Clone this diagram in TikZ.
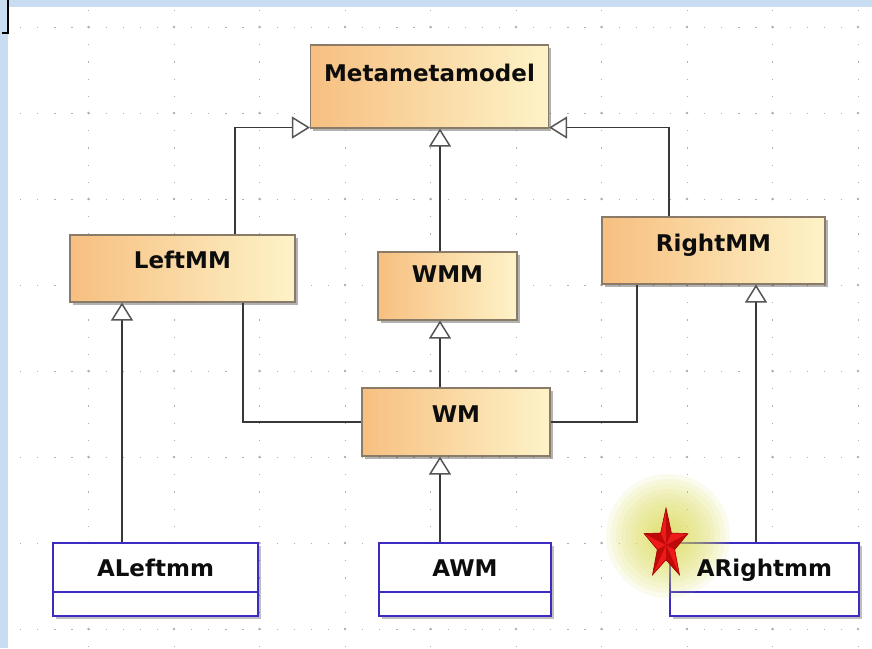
\documentclass[tikz,border=0pt]{standalone}
\usepackage{fontspec}
\newfontfamily\umlfont{DejaVu Sans}
\usetikzlibrary{arrows.meta,shadows,calc}
\definecolor{bgblue}{HTML}{C8DCF2}
\definecolor{orgL}{HTML}{F7BF80}
\definecolor{orgR}{HTML}{FDF3C8}
\definecolor{orgBorder}{HTML}{8A7A68}
\definecolor{umlblue}{HTML}{3B2BC2}
\definecolor{conn}{HTML}{383838}
\definecolor{tipgray}{HTML}{555555}
\definecolor{gridgray}{HTML}{B0B0B0}
\definecolor{glowcol}{HTML}{DCDC50}
\definecolor{starred}{HTML}{EE1A1A}
\definecolor{stardark}{HTML}{A00000}
\begin{document}
\begin{tikzpicture}[x=1pt,y=-1pt,
  hgrid/.style={gridgray, line width=0.9pt, dash pattern=on 1.2pt off 15.9pt},
  vgrid/.style={gridgray, line width=0.9pt, dash pattern=on 1.2pt off 16pt},
  mmbox/.style={draw=orgBorder, line width=1.1pt, left color=orgL, right color=orgR, inner sep=0pt,
    drop shadow={shadow xshift=2.5pt, shadow yshift=-2.5pt, opacity=0.3, fill=black}},
  inbox/.style={draw=umlblue, line width=1.7pt, fill=white, inner sep=0pt,
    drop shadow={shadow xshift=2.5pt, shadow yshift=-2.5pt, opacity=0.25, fill=black}},
  lbl/.style={font=\umlfont\bfseries\fontsize{23}{25}\selectfont, text=black!95, anchor=base, inner sep=0pt},
  gen/.style={conn, line width=1.5pt, -{Triangle[open, length=18pt, width=22pt, fill=white, color=tipgray]}},
  plainline/.style={conn, line width=1.5pt},
  divider/.style={umlblue, line width=1.7pt},
]
\useasboundingbox (0,0) rectangle (872,648);
% background
\fill[bgblue] (0,0) rectangle (872,648);
\fill[white] (8,7) rectangle (872,648);
\draw[black, line width=1.6pt] (2,33) -- (8,33) -- (8,0);
% grid
\begin{scope}
\clip (8,7) rectangle (872,648);
\foreach \yy in {27,113,199,285,371,457,543,629}
  \draw[hgrid] (3,\yy) -- (872,\yy);
\foreach \xx in {88.5,174,259.5,345,430.5,516,601.5,687,772.5,858}
  \draw[vgrid] (\xx,9.8) -- (\xx,648);
\foreach \yy in {27,113,199,285,371,457,543,629}
  \foreach \xx in {88.5,174,259.5,345,430.5,516,601.5,687,772.5,858}
    \fill[gridgray] (\xx,\yy) circle (1.4pt);
\end{scope}
% boxes
\node[mmbox, minimum width=238pt, minimum height=83pt] (MMM) at (429.5,86.5) {};
\node[mmbox, minimum width=225pt, minimum height=67pt] (LeftMM) at (182.5,268.5) {};
\node[mmbox, minimum width=139pt, minimum height=68pt] (WMM) at (447.5,286) {};
\node[mmbox, minimum width=223pt, minimum height=67pt] (RightMM) at (713.5,250.5) {};
\node[mmbox, minimum width=188pt, minimum height=68pt] (WM) at (456,422) {};
\node[inbox, minimum width=205pt, minimum height=73pt] (ALeft) at (155.5,579.5) {};
\node[inbox, minimum width=172pt, minimum height=73pt] (AWM) at (465,579.5) {};
\node[inbox, minimum width=189pt, minimum height=73pt] (ARight) at (764.5,579.5) {};
\draw[divider] ([yshift=25pt]ALeft.south west) -- ([yshift=25pt]ALeft.south east);
\draw[divider] ([yshift=25pt]AWM.south west) -- ([yshift=25pt]AWM.south east);
\draw[divider] ([yshift=25pt]ARight.south west) -- ([yshift=25pt]ARight.south east);
% connectors
\coordinate (cx) at (440,0);
\coordinate (lx) at (122,0);
\coordinate (rx) at (756,0);
\coordinate (l1) at (235,0);
\coordinate (l2) at (243,0);
\coordinate (r1) at (669,0);
\coordinate (r2) at (637,0);
\draw[gen] (LeftMM.north -| l1) |- ([yshift=1pt]MMM.south west);
\draw[gen] (RightMM.north -| r1) |- ([yshift=1pt]MMM.south east);
\draw[gen] (WMM.north -| cx) -- (MMM.south -| cx);
\draw[gen] (WM.north -| cx) -- (WMM.south -| cx);
\draw[gen] (AWM.north -| cx) -- (WM.south -| cx);
\draw[gen] (ALeft.north -| lx) -- (LeftMM.south -| lx);
\draw[gen] (ARight.north -| rx) -- (RightMM.south -| rx);
\draw[plainline] (LeftMM.south -| l2) |- (WM.west);
\draw[plainline] (RightMM.south -| r2) |- (WM.east);
% glow
\coordinate (glowc) at (668,536);
\foreach \r in {62,57,52,47,42,37,32,27,22,17,12}
  \fill[glowcol, opacity=0.1] (glowc) circle (\r pt);
% labels
\node[lbl] (MMMt) at ([yshift=-37pt]MMM.north) {Metametamodel};
\node[lbl] (LeftMMt) at ([yshift=-34.5pt]LeftMM.north) {LeftMM};
\node[lbl] (WMMt) at ([yshift=-31pt]WMM.north) {WMM};
\node[lbl] (RightMMt) at ([yshift=-35pt]RightMM.north) {RightMM};
\node[lbl] (WMt) at ([yshift=-35pt]WM.north) {WM};
\node[lbl] (ALeftt) at ([yshift=-34.5pt]ALeft.north) {ALeftmm};
\node[lbl] (AWMt) at ([yshift=-34.5pt]AWM.north) {AWM};
\node[lbl] (ARightt) at ([yshift=-34.5pt]ARight.north) {ARightmm};
% star
\coordinate (sc) at (666,545);
\coordinate (o1) at (666,508);
\coordinate (i1) at (660.6,533.0);
\coordinate (o2) at (644.1,533.6);
\coordinate (i2) at (657.3,549.6);
\coordinate (o3) at (652.5,574.9);
\coordinate (i3) at (666,559.8);
\coordinate (o4) at (679.5,574.9);
\coordinate (i4) at (674.7,549.6);
\coordinate (o5) at (687.9,533.6);
\coordinate (i5) at (671.4,533.0);
\fill[starred] (o1) -- (i1) -- (o2) -- (i2) -- (o3) -- (i3) -- (o4) -- (i4) -- (o5) -- (i5) -- cycle;
\fill[stardark, opacity=0.6] (sc) -- (o1) -- (i5) -- cycle;
\fill[stardark, opacity=0.6] (sc) -- (o2) -- (i1) -- cycle;
\fill[stardark, opacity=0.6] (sc) -- (o3) -- (i2) -- cycle;
\fill[stardark, opacity=0.6] (sc) -- (o4) -- (i3) -- cycle;
\fill[stardark, opacity=0.6] (sc) -- (o5) -- (i4) -- cycle;
\draw[stardark, line width=0.6pt, line join=miter] (o1) -- (i1) -- (o2) -- (i2) -- (o3) -- (i3) -- (o4) -- (i4) -- (o5) -- (i5) -- cycle;
\end{tikzpicture}
\end{document}
